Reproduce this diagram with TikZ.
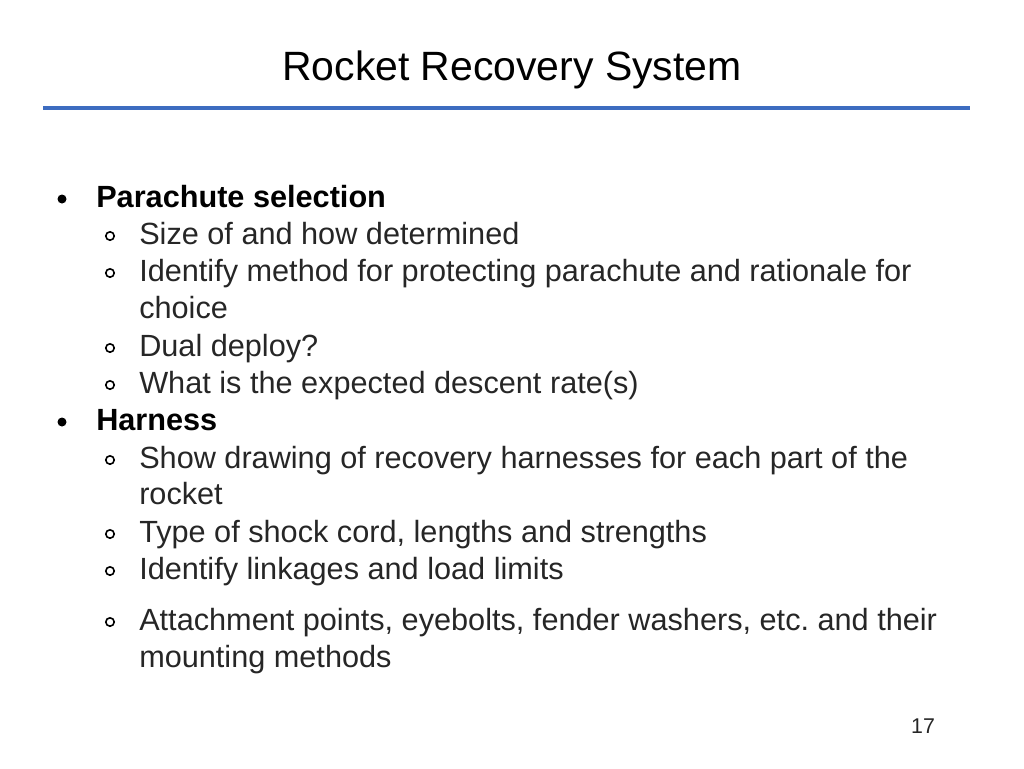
\documentclass[tikz,border=0pt]{standalone}
\usepackage{fontspec}
\setmainfont{Liberation Sans}
\frenchspacing
\definecolor{rulebl}{HTML}{3D6CC0}
\definecolor{txtgr}{HTML}{262626}
\tikzset{
  item/.style={anchor=base west, inner sep=0pt, yshift=-6pt, font=\fontsize{23pt}{26pt}\selectfont, text=txtgr},
  head/.style={item, font=\fontsize{23pt}{26pt}\selectfont\bfseries, text=black},
  dotA/.style={fill=black},
  dotB/.style={draw=black, line width=1.2pt}
}
\begin{document}
\begin{tikzpicture}[x=0.75pt, y=-0.75pt]
            \useasboundingbox (0,0) rectangle (1024,768);

            \node[anchor=base, inner sep=0pt, font=\fontsize{30.7pt}{34pt}\selectfont] (title) at (512,80) {Rocket Recovery System};
            \draw[color=rulebl, line width=3.6pt] (43,108) -- (970,108);

            \fill[dotA] (62,199) circle (4.5);
            \node[head] (para) at (96,199) {Parachute selection};
            \draw[dotB] (110,236) circle (4.2);
            \node[item] (size) at (139,236) {Size of and how determined};
            \draw[dotB] (110,273) circle (4.2);
            \node[item] (prot) at (139,273) {Identify method for protecting parachute and rationale for};
            \node[item] (protb) at (139,310) {choice};
            \draw[dotB] (110,348) circle (4.2);
            \node[item] (dual) at (139,348) {Dual deploy?};
            \draw[dotB] (110,385) circle (4.2);
            \node[item] (rate) at (139,385) {What is the expected descent rate(s)};

            \fill[dotA] (62,422) circle (4.5);
            \node[head] (harn) at (96,422) {Harness};
            \draw[dotB] (110,460) circle (4.2);
            \node[item] (draw) at (139,460) {Show drawing of recovery harnesses for each part of the};
            \node[item] (drawb) at (139,496) {rocket};
            \draw[dotB] (110,534) circle (4.2);
            \node[item] (cord) at (139,534) {Type of shock cord, lengths and strengths};
            \draw[dotB] (110,571) circle (4.2);
            \node[item] (link) at (139,571) {Identify linkages and load limits};
            \draw[dotB] (110,622) circle (4.2);
            \node[item] (att) at (139,622) {Attachment points, eyebolts, fender washers, etc. and their};
            \node[item] (attb) at (139,659) {mounting methods};

            \node[anchor=base, inner sep=0pt, font=\fontsize{16pt}{18pt}\selectfont, text=txtgr] (page) at (923,733) {17};

\end{tikzpicture}
\end{document}
